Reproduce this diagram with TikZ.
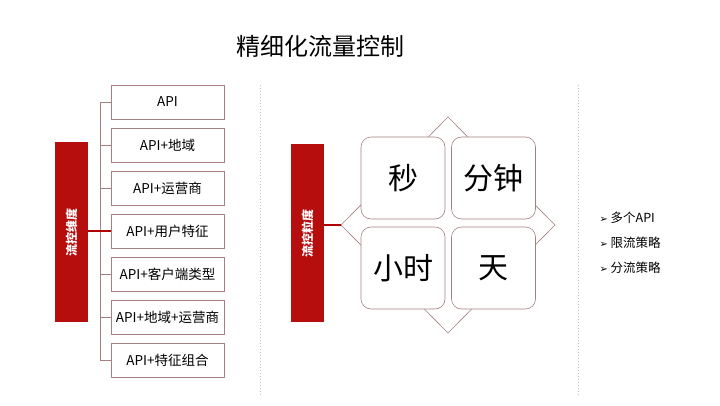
\documentclass[tikz,border=0pt]{standalone}
\usepackage{fontspec}
\setmainfont{Noto Sans CJK SC}
\newfontfamily\sym{DejaVu Sans}
\begin{document}
\begin{tikzpicture}[x=1pt,y=-1pt,
  redbar/.style={fill=red!70!black!95,draw=none},
  itembox/.style={draw=red!30!black!50,line width=0.6pt,minimum width=113pt,minimum height=34pt,font=\fontsize{13.5}{15}\selectfont,inner sep=0pt},
  cell/.style={draw=red!30!black!50,fill=white,rounded corners=10pt,line width=0.6pt,minimum width=84pt,minimum height=82pt,font=\fontsize{30}{34}\selectfont},
  tree/.style={draw=red!30!black!50,line width=0.6pt},
  sep/.style={draw=gray!50,dash pattern=on 1pt off 2pt,line width=0.8pt}]
\useasboundingbox (0,0) rectangle (720,405);
\node (title) at (320,46) {\fontsize{24}{28}\selectfont 精细化流量控制};
% left
\node[redbar,minimum width=33pt,minimum height=180pt,inner sep=0] (lbar) at (71.5,232) {};
\node[rotate=90,text=white,font=\bfseries\fontsize{12}{14}\selectfont] at (lbar) {流控维度};
\foreach \i/\t in {0/API,1/API+地域,2/API+运营商,3/API+用户特征,4/API+客户端类型,5/API+地域+运营商,6/API+特征组合}{
  \node[itembox] (b\i) at (167.5,{102+43*\i}) {\t};
  \draw[tree] (100,{102+43*\i}) -- (b\i.west);
}
\coordinate (tt) at (100,102);
\coordinate (tb) at (100,360);
\draw[tree] (tt) -- (tb);
\draw[red!70!black,line width=1.5pt] (lbar.east |- b3.west) -- (b3.west);
% separators
\coordinate (s1t) at (260,85); \coordinate (s1b) at (260,395);
\coordinate (s2t) at (578,85); \coordinate (s2b) at (578,395);
\draw[sep] (s1t) -- (s1b);
\draw[sep] (s2t) -- (s2b);
% middle
\node[redbar,minimum width=33pt,minimum height=178pt,inner sep=0] (mbar) at (307.5,233) {};
\node[rotate=90,text=white,font=\bfseries\fontsize{12}{14}\selectfont] at (mbar) {流控粒度};
\coordinate (dl) at (341,225); \coordinate (dt) at (448,117);
\coordinate (dr) at (555,225); \coordinate (db) at (448,333);
\draw[tree] (dl) -- (dt) -- (dr) -- (db) -- cycle;
\draw[red!70!black,line width=1.5pt] (mbar.east |- dl) -- (dl);
\node[cell] (c1) at (403,178) {秒};
\node[cell] (c2) at (493.5,178) {分钟};
\node[cell] (c3) at (403,268) {小时};
\node[cell] (c4) at (493.5,268) {天};
% bullets
\foreach \i/\t in {0/多个API,1/限流策略,2/分流策略}{
  \node[anchor=west,font=\fontsize{12.5}{14}\selectfont] (p\i) at (596,{218+25*\i}) {{\sym\fontsize{10}{12}\selectfont ➢}\ \t};
}
\end{tikzpicture}
\end{document}
